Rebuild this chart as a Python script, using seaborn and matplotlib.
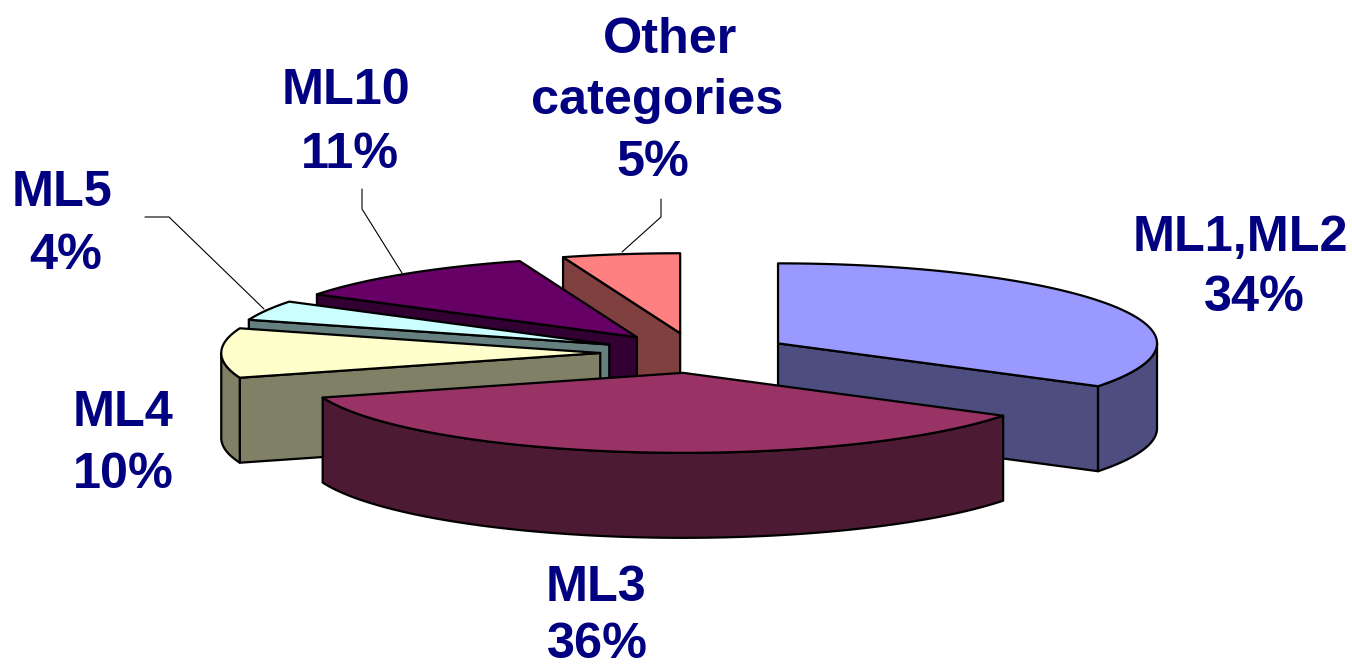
import numpy as np
import matplotlib
matplotlib.use('Agg')
import matplotlib.pyplot as plt
import seaborn as sns

# data, clockwise from 12 o'clock
categories = ['ML1,ML2', 'ML3', 'ML4', 'ML5', 'ML10', 'Other categories']
shares = [34, 36, 10, 4, 11, 5]
top_colors = ['#9999FF', '#993366', '#FFFFCC', '#CCFFFF', '#660066', '#FF8080']
draw_order = ['Other categories', 'ML10', 'ML5', 'ML4', 'ML1,ML2', 'ML3']

W, H = 1352, 666
# pie geometry in pixels: centre, radii; thickness and explode are in pie units
CX, CY, RX, RY = 695, 353, 379, 80
DEPTH = 85 / RY
EXPLODE = 0.25
NAVY = '#000080'

sns.set_theme(style='white')
plt.rcParams['font.family'] = ['Liberation Sans', 'DejaVu Sans']

fig = plt.figure(figsize=(W / 100, H / 100), dpi=100)
ax = fig.add_axes([0, 0, 1, 1])
# one data unit is one pie radius, squashed through the axis limits
ax.set_xlim(-CX / RX, (W - CX) / RX)
ax.set_ylim((CY - H) / RY, CY / RY)
ax.axis('off')


def point(cx, cy, theta):
    return cx + np.sin(theta), cy + np.cos(theta)


def draw_slice(start, end, color):
    mid = (start + end) / 2
    cx, cy = EXPLODE * np.sin(mid), EXPLODE * np.cos(mid)
    side = tuple(np.array(matplotlib.colors.to_rgb(color)) * 0.5)
    style = dict(edgecolor='black', linewidth=1.6, joinstyle='round', facecolor=side)

    # cut walls, only the ones turned to the viewer
    for theta, visible in ((start, np.sin(start) < 0), (end, np.sin(end) > 0)):
        if visible:
            x, y = point(cx, cy, theta)
            ax.fill([cx, x, x, cx], [cy, y, y - DEPTH, cy - DEPTH], **style)

    # outer rim, front half only
    lo, hi = max(start, np.pi / 2), min(end, 3 * np.pi / 2)
    if lo < hi:
        t = np.linspace(lo, hi, 120)
        x, y = point(cx, cy, t)
        ax.fill(np.r_[x, x[::-1]], np.r_[y, y[::-1] - DEPTH], **style)

    t = np.linspace(start, end, 200)
    x, y = point(cx, cy, t)
    style['facecolor'] = color
    ax.fill(np.r_[cx, x], np.r_[cy, y], **style)


edges = np.cumsum([0] + shares) / sum(shares) * 2 * np.pi
for name in draw_order:
    i = categories.index(name)
    draw_slice(edges[i], edges[i + 1], top_colors[i])

# leader lines
leaders = [
    [(145, 217), (169, 217), (264, 309)],
    [(362, 189), (362, 209), (402, 273)],
    [(661, 199), (661, 217), (622, 252)],
]
for path in leaders:
    px, py = zip(*path)
    ax.plot((np.array(px) - CX) / RX, (CY - np.array(py)) / RY, color='black', lw=0.8)

# labels, placed line by line in pixels
label_lines = [
    ('ML1,ML2', 1240, 238), ('34%', 1254, 298),
    ('ML3', 596, 588), ('36%', 597, 645),
    ('ML4', 123, 413), ('10%', 123, 475),
    ('ML5', 62, 193), ('4%', 66, 256),
    ('ML10', 346, 91), ('11%', 350, 155),
    ('Other', 670, 40), ('categories', 657, 101), ('5%', 653, 163),
]
for text, x, y in label_lines:
    fig.text(x / W, 1 - y / H, text, ha='center', va='center',
             color=NAVY, fontsize=36.3, fontweight='bold')

fig.savefig('out.png', dpi=100, facecolor='white')
